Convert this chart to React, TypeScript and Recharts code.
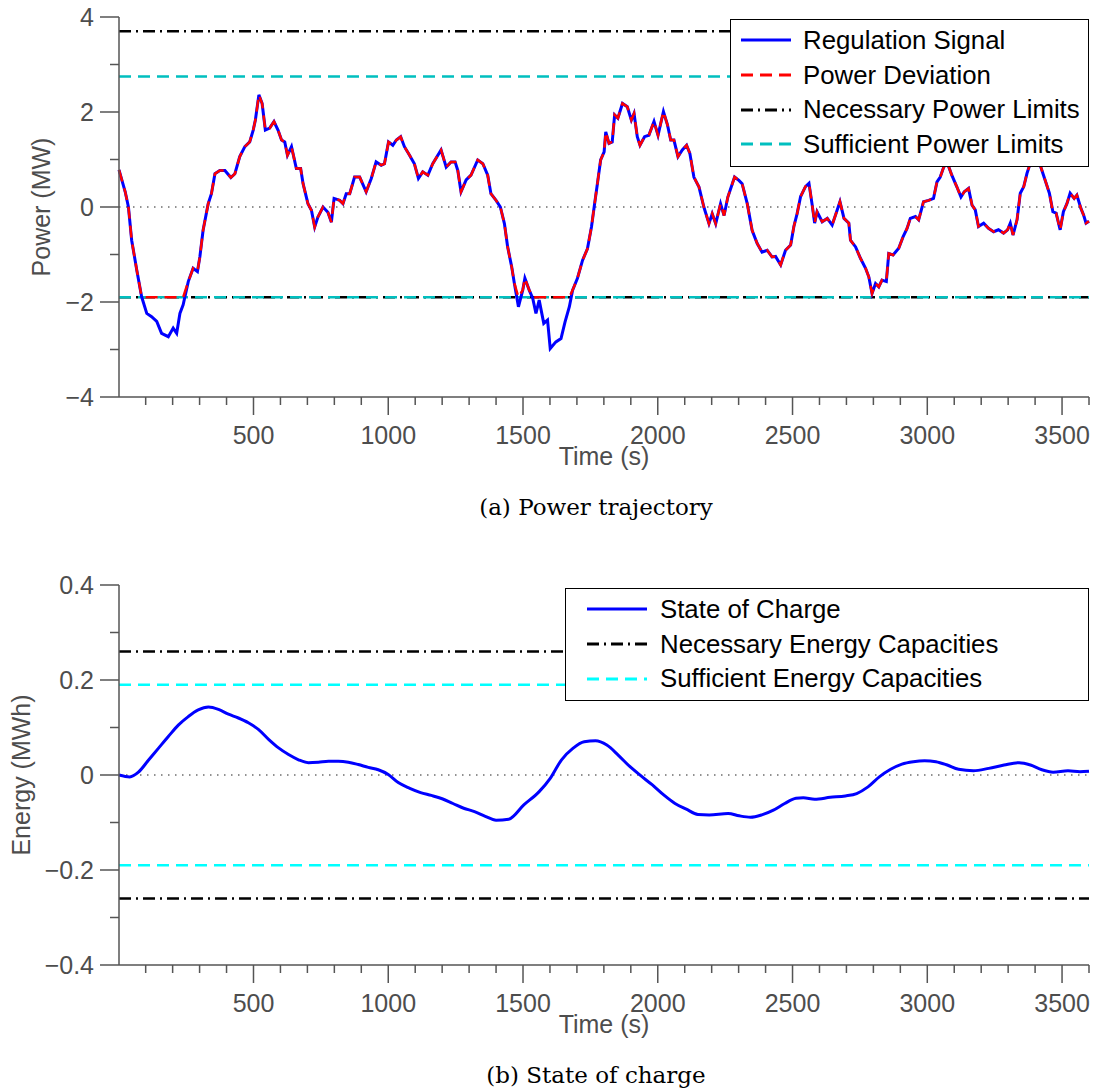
import { LineChart, Line, XAxis, YAxis, ReferenceLine, Legend } from 'recharts'

// Power trajectory (s, MW)
const powerTime = [
    1, 24, 36, 48, 67, 85, 104, 122, 141, 159, 184, 202, 215, 227, 239, 258, 276, 292, 301, 313,
    332, 344, 357, 375, 394, 416, 431, 449, 468, 486, 499, 507, 520, 532, 544, 560, 576, 591, 604, 616,
    626, 641, 659, 675, 684, 702, 715, 727, 739, 758, 776, 789, 799, 820, 832, 844, 857, 875, 894, 918,
    937, 955, 974, 986, 1001, 1017, 1030, 1046, 1060, 1079, 1097, 1112, 1128, 1147, 1165, 1196, 1215, 1233, 1248, 1258,
    1270, 1289, 1307, 1332, 1351, 1369, 1381, 1400, 1416, 1431, 1443, 1458, 1468, 1483, 1499, 1507, 1523, 1536, 1548, 1560,
    1577, 1591, 1601, 1622, 1641, 1656, 1672, 1684, 1702, 1721, 1739, 1754, 1764, 1776, 1788, 1801, 1807, 1819, 1831, 1840,
    1852, 1869, 1887, 1902, 1912, 1924, 1934, 1951, 1967, 1986, 2001, 2021, 2036, 2048, 2060, 2075, 2091, 2107, 2119, 2134,
    2153, 2171, 2190, 2202, 2215, 2233, 2246, 2260, 2285, 2301, 2313, 2332, 2350, 2369, 2387, 2406, 2424, 2437, 2456, 2474,
    2493, 2505, 2517, 2530, 2548, 2561, 2573, 2582, 2591, 2610, 2629, 2647, 2666, 2676, 2691, 2709, 2715, 2734, 2752, 2771,
    2783, 2795, 2808, 2820, 2832, 2848, 2857, 2873, 2894, 2910, 2925, 2937, 2956, 2968, 2986, 3005, 3023, 3036, 3048, 3061,
    3073, 3091, 3110, 3125, 3137, 3153, 3166, 3178, 3190, 3209, 3227, 3246, 3264, 3283, 3298, 3308, 3318, 3333, 3345, 3358,
    3370, 3382, 3397, 3419, 3437, 3453, 3466, 3478, 3493, 3505, 3518, 3530, 3545, 3555, 3570, 3580, 3589, 3600
]
const regulationSignal = [
    0.78, 0.32, 0.0, -0.7, -1.33, -1.89, -2.24, -2.31, -2.41, -2.66, -2.73, -2.55, -2.66, -2.24, -2.06, -1.57, -1.29, -1.36, -1.05, -0.49,
    0.07, 0.28, 0.7, 0.77, 0.77, 0.62, 0.7, 1.06, 1.27, 1.37, 1.62, 1.83, 2.36, 2.18, 1.62, 1.66, 1.8, 1.62, 1.41, 1.37,
    1.09, 1.27, 0.81, 0.81, 0.49, 0.07, -0.07, -0.42, -0.21, 0.0, -0.11, -0.32, 0.18, 0.14, 0.07, 0.28, 0.28, 0.63, 0.63, 0.32,
    0.6, 0.95, 0.88, 0.91, 1.37, 1.3, 1.41, 1.48, 1.27, 1.09, 0.91, 0.6, 0.74, 0.67, 0.91, 1.2, 0.84, 0.95, 0.95, 0.77,
    0.32, 0.57, 0.67, 0.99, 0.91, 0.67, 0.28, 0.14, 0.0, -0.35, -0.84, -1.26, -1.61, -2.1, -1.75, -1.5, -1.75, -1.92, -2.24, -1.96,
    -2.45, -2.38, -2.98, -2.84, -2.77, -2.42, -2.1, -1.75, -1.5, -1.12, -0.88, -0.42, 0.0, 0.49, 0.99, 1.16, 1.58, 1.34, 1.37, 1.94,
    1.87, 2.18, 2.11, 1.83, 1.97, 1.48, 1.3, 1.48, 1.51, 1.8, 1.51, 2.01, 1.73, 1.41, 1.41, 1.06, 1.2, 1.3, 1.13, 0.63,
    0.42, 0.0, -0.35, -0.14, -0.35, 0.07, -0.18, 0.21, 0.63, 0.56, 0.49, 0.07, -0.49, -0.77, -0.95, -0.91, -1.05, -1.04, -1.22, -0.91,
    -0.8, -0.41, -0.14, 0.22, 0.43, 0.5, 0.04, -0.34, -0.1, -0.31, -0.24, -0.38, -0.06, 0.11, -0.24, -0.34, -0.7, -0.84, -1.08, -1.29,
    -1.47, -1.82, -1.61, -1.68, -1.54, -1.57, -0.98, -1.01, -0.87, -0.63, -0.45, -0.24, -0.2, -0.27, 0.11, 0.14, 0.18, 0.53, 0.63, 0.84,
    0.95, 0.67, 0.42, 0.21, 0.32, 0.39, 0.04, -0.06, -0.41, -0.34, -0.45, -0.52, -0.48, -0.55, -0.48, -0.34, -0.59, -0.27, 0.29, 0.43,
    0.71, 0.92, 1.05, 0.88, 0.57, 0.29, -0.1, -0.13, -0.48, -0.1, 0.07, 0.29, 0.18, 0.25, -0.03, -0.17, -0.34, -0.3
]
const necessaryPowerLimits = [3.7, -1.9]
const sufficientPowerLimits = [2.75, -1.9]

// State of charge (s, MWh)
const socTime = [
    1, 41, 73, 110, 147, 184, 221, 258, 295, 333, 370, 407, 444, 481, 518, 556, 593, 630, 667, 704,
    741, 778, 815, 852, 889, 926, 963, 1000, 1037, 1080, 1120, 1160, 1200, 1240, 1280, 1320, 1360, 1400, 1447, 1503,
    1560, 1601, 1643, 1685, 1727, 1769, 1811, 1853, 1896, 1938, 1980, 2022, 2064, 2106, 2149, 2191, 2261, 2302, 2344, 2386,
    2429, 2471, 2513, 2540, 2582, 2640, 2696, 2738, 2780, 2822, 2864, 2906, 2948, 2990, 3032, 3074, 3116, 3171, 3228, 3285,
    3341, 3383, 3425, 3467, 3522, 3566, 3600
]
const stateOfCharge = [
    0.0, -0.004, 0.006, 0.031, 0.056, 0.081, 0.105, 0.123, 0.137, 0.143, 0.138, 0.128, 0.12, 0.11, 0.096, 0.075, 0.057, 0.043, 0.032, 0.026,
    0.027, 0.029, 0.029, 0.027, 0.022, 0.016, 0.011, 0.001, -0.016, -0.028, -0.037, -0.043, -0.05, -0.06, -0.07, -0.077, -0.087, -0.095, -0.093, -0.063,
    -0.035, -0.007, 0.032, 0.056, 0.07, 0.072, 0.063, 0.042, 0.018, -0.002, -0.021, -0.042, -0.06, -0.072, -0.083, -0.084, -0.081, -0.086, -0.089, -0.084,
    -0.074, -0.06, -0.049, -0.048, -0.051, -0.047, -0.044, -0.039, -0.025, -0.004, 0.012, 0.023, 0.028, 0.03, 0.028, 0.021, 0.012, 0.009, 0.014, 0.021,
    0.026, 0.021, 0.011, 0.006, 0.009, 0.007, 0.008
]
const necessaryEnergyCapacities = [0.26, -0.26]
const sufficientEnergyCapacities = [0.19, -0.19]

// Axes
const timeTicks = [
    100, 200, 300, 400, 500, 600, 700, 800, 900, 1000, 1100, 1200, 1300, 1400, 1500, 1600, 1700, 1800,
    1900, 2000, 2100, 2200, 2300, 2400, 2500, 2600, 2700, 2800, 2900, 3000, 3100, 3200, 3300, 3400, 3500, 3600
]
const timeLabels = [500, 1000, 1500, 2000, 2500, 3000, 3500]
const powerTicks = [-4, -3, -2, -1, 0, 1, 2, 3, 4]
const powerLabels = [-4, -2, 0, 2, 4]
const energyTicks = [-0.4, -0.3, -0.2, -0.1, 0, 0.1, 0.2, 0.3, 0.4]
const energyLabels = [-0.4, -0.2, 0, 0.2, 0.4]

const powerData = powerTime.map((t, i) => ({
    t,
    signal: regulationSignal[i],
    // the deviation follows the signal but is held at the lower limit
    deviation: Math.max(regulationSignal[i], necessaryPowerLimits[1])
}))
const socData = socTime.map((t, i) => ({ t, soc: stateOfCharge[i] }))

const AXIS = '#555555'
const TICK_TEXT = '#4d4d4d'
const SANS = '"Liberation Sans", Arial, Helvetica, sans-serif'
const DASH_DOT = '12 5 2 5'
const DASH = '12 7'

const TimeTick = ({ x, y, payload }: any) => {
    const major = timeLabels.includes(payload.value)
    return (
        <g>
            <line x1={x} y1={y} x2={x} y2={y + (major ? 18 : 8)} stroke={AXIS} strokeWidth={1.5} />
            {major && (
                <text x={x} y={y + 47} textAnchor="middle" fill={TICK_TEXT} fontSize={25} fontFamily={SANS}>
                    {payload.value}
                </text>
            )}
        </g>
    )
}

const makeValueTick = (labels: number[]) => ({ x, y, payload }: any) => {
    const v = payload.value
    const major = labels.some((l) => Math.abs(l - v) < 1e-9)
    return (
        <g>
            <line x1={x - (major ? 19 : 9)} y1={y} x2={x} y2={y} stroke={AXIS} strokeWidth={1.5} />
            {major && (
                <text x={x - 25} y={y + 9} textAnchor="end" fill={TICK_TEXT} fontSize={25} fontFamily={SANS}>
                    {String(v).replace('-', '\u2212')}
                </text>
            )}
        </g>
    )
}
const PowerTick = makeValueTick(powerLabels)
const EnergyTick = makeValueTick(energyLabels)

interface LegendRow {
    label: string
    color: string
    dash?: string
    width: number
}

const LegendBox = ({ rows, sampleLeft, sampleLen, gap }: { rows: LegendRow[], sampleLeft: number, sampleLen: number, gap: number }) => (
    <div style={{ border: '1.5px solid #000', background: '#fff', boxSizing: 'border-box', padding: '3px 0 4px 0' }}>
        {rows.map((r) => (
            <div key={r.label} style={{ display: 'flex', alignItems: 'center', height: 34.7 }}>
                <svg width={sampleLeft + sampleLen} height={10} style={{ flex: 'none' }}>
                    <line x1={sampleLeft} y1={5} x2={sampleLeft + sampleLen} y2={5} stroke={r.color} strokeWidth={r.width} strokeDasharray={r.dash} />
                </svg>
                <span style={{ marginLeft: gap, fontSize: 25.8, fontFamily: SANS, color: '#000', whiteSpace: 'nowrap' }}>{r.label}</span>
            </div>
        ))}
    </div>
)

const powerLegend: LegendRow[] = [
    { label: 'Regulation Signal', color: '#0000ff', width: 3 },
    { label: 'Power Deviation', color: '#ff0000', dash: DASH, width: 3 },
    { label: 'Necessary Power Limits', color: '#000000', dash: DASH_DOT, width: 3 },
    { label: 'Sufficient Power Limits', color: '#00bfbf', dash: DASH, width: 3 }
]
const energyLegend: LegendRow[] = [
    { label: 'State of Charge', color: '#0000ff', width: 3 },
    { label: 'Necessary Energy Capacities', color: '#000000', dash: DASH_DOT, width: 3 },
    { label: 'Sufficient Energy Capacities', color: '#00ffff', dash: DASH, width: 3 }
]

const axisTitle = (text: string, x: number, y: number, rotate: boolean) => () => (
    <text
        x={x}
        y={y}
        textAnchor="middle"
        fill={TICK_TEXT}
        fontSize={25}
        fontFamily={SANS}
        transform={rotate ? `rotate(-90 ${x} ${y})` : undefined}
    >
        {text}
    </text>
)

const captionStyle = {
    position: 'absolute' as const,
    left: 346,
    width: 500,
    textAlign: 'center' as const,
    fontFamily: '"DejaVu Serif", serif',
    fontSize: 23,
    lineHeight: '26px',
    color: '#000'
}

const CHART_W = 1093
const CHART_H = 480
const MARGIN = { top: 17, right: 4, bottom: 0, left: 0 }

export default function App() {
    return (
        <div style={{ position: 'absolute', left: 0, top: 0, width: 1093, height: 1090, background: '#fff', fontFamily: SANS }}>
            {/* (a) Power trajectory */}
            <div style={{ position: 'absolute', left: 0, top: 0 }}>
                <LineChart width={CHART_W} height={CHART_H} data={powerData} margin={MARGIN}>
                    <XAxis
                        type="number"
                        dataKey="t"
                        domain={[1, 3600]}
                        ticks={timeTicks}
                        interval={0}
                        tickSize={0}
                        tickMargin={0}
                        tickLine={false}
                        tick={TimeTick}
                        height={83}
                        axisLine={{ stroke: AXIS, strokeWidth: 1.5 }}
                        label={{ content: axisTitle('Time (s)', 604, 465, false) }}
                    />
                    <YAxis
                        type="number"
                        domain={[-4, 4]}
                        ticks={powerTicks}
                        interval={0}
                        tickSize={0}
                        tickMargin={0}
                        tickLine={false}
                        tick={PowerTick}
                        width={119}
                        axisLine={{ stroke: AXIS, strokeWidth: 1.5 }}
                        label={{ content: axisTitle('Power (MW)', 50, 207, true) }}
                    />
                    <ReferenceLine y={0} stroke="#222" strokeWidth={1} strokeDasharray="1.5 5.5" />
                    {necessaryPowerLimits.map((v) => (
                        <ReferenceLine key={'n' + v} y={v} stroke="#000" strokeWidth={2.5} strokeDasharray={DASH_DOT} />
                    ))}
                    {sufficientPowerLimits.map((v) => (
                        <ReferenceLine key={'s' + v} y={v} stroke="#00bfbf" strokeWidth={2.5} strokeDasharray={DASH} />
                    ))}
                    <Line type="linear" dataKey="signal" stroke="#0000ff" strokeWidth={3} dot={false} isAnimationActive={false} />
                    <Line type="linear" dataKey="deviation" stroke="#ff0000" strokeWidth={2.5} strokeDasharray={DASH} dot={false} isAnimationActive={false} />
                    <Legend
                        layout="horizontal"
                        verticalAlign="middle"
                        align="center"
                        wrapperStyle={{ top: 19, left: 730, width: 359 }}
                        content={() => <LegendBox rows={powerLegend} sampleLeft={10} sampleLen={50} gap={12} />}
                    />
                </LineChart>
                <div style={{ ...captionStyle, top: 494 }}>(a) Power trajectory</div>
            </div>

            {/* (b) State of charge */}
            <div style={{ position: 'absolute', left: 0, top: 568 }}>
                <LineChart width={CHART_W} height={CHART_H} data={socData} margin={MARGIN}>
                    <XAxis
                        type="number"
                        dataKey="t"
                        domain={[1, 3600]}
                        ticks={timeTicks}
                        interval={0}
                        tickSize={0}
                        tickMargin={0}
                        tickLine={false}
                        tick={TimeTick}
                        height={83}
                        axisLine={{ stroke: AXIS, strokeWidth: 1.5 }}
                        label={{ content: axisTitle('Time (s)', 604, 465, false) }}
                    />
                    <YAxis
                        type="number"
                        domain={[-0.4, 0.4]}
                        ticks={energyTicks}
                        interval={0}
                        tickSize={0}
                        tickMargin={0}
                        tickLine={false}
                        tick={EnergyTick}
                        width={119}
                        axisLine={{ stroke: AXIS, strokeWidth: 1.5 }}
                        label={{ content: axisTitle('Energy (MWh)', 30, 207, true) }}
                    />
                    <ReferenceLine y={0} stroke="#222" strokeWidth={1} strokeDasharray="1.5 5.5" />
                    {necessaryEnergyCapacities.map((v) => (
                        <ReferenceLine key={'n' + v} y={v} stroke="#000" strokeWidth={2.5} strokeDasharray={DASH_DOT} />
                    ))}
                    {sufficientEnergyCapacities.map((v) => (
                        <ReferenceLine key={'s' + v} y={v} stroke="#00ffff" strokeWidth={2.5} strokeDasharray={DASH} />
                    ))}
                    <Line type="monotone" dataKey="soc" stroke="#0000ff" strokeWidth={3} dot={false} isAnimationActive={false} />
                    <Legend
                        layout="horizontal"
                        verticalAlign="middle"
                        align="center"
                        wrapperStyle={{ top: 20, left: 565, width: 524 }}
                        content={() => <LegendBox rows={energyLegend} sampleLeft={21} sampleLen={60} gap={13} />}
                    />
                </LineChart>
                <div style={{ ...captionStyle, top: 494 }}>(b) State of charge</div>
            </div>
        </div>
    )
}
